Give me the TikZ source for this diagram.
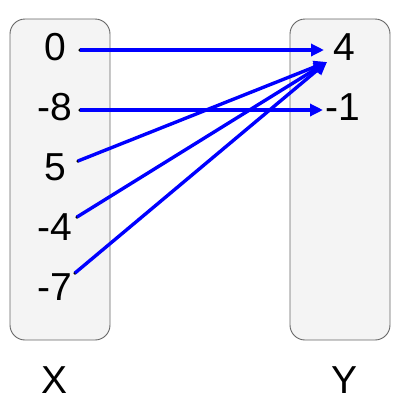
\documentclass[tikz,border=0pt]{standalone}
\usepackage{fontspec}
\setmainfont{Liberation Sans}
\usetikzlibrary{arrows.meta}
\definecolor{boxfill}{RGB}{244,244,244}
\definecolor{boxline}{RGB}{102,102,102}
\definecolor{arrblue}{RGB}{0,0,255}
\begin{document}
\begin{tikzpicture}[x=1pt,y=-1pt,
  setbox/.style={draw=boxline,fill=boxfill,line width=0.9pt,rounded corners=15pt},
  lbl/.style={inner sep=0pt,anchor=base,font=\fontsize{39}{41}\selectfont},
  dotn/.style={circle,fill=black,inner sep=0pt,minimum size=3.5pt},
  conn/.style={draw=arrblue,line width=3.4pt,-{Triangle[length=13pt,width=12pt]}}]
\useasboundingbox (0,0) rectangle (400,400);
\draw[setbox] (10,19) rectangle (110,340);
\draw[setbox] (290,19) rectangle (390,340);
\node[lbl] (x0) at (55,60) {0};
\node[lbl] (x8) at (55,120) {-8};
\node[lbl] (x5) at (55,180) {5};
\node[lbl] (x4) at (55,240) {-4};
\node[lbl] (x7) at (55,300) {-7};
\node[lbl] (y4) at (344.5,60) {4};
\node[lbl] (y1) at (342.5,120) {-1};
\node[lbl] (lx) at (55,393) {X};
\node[lbl] (ly) at (345,393) {Y};
\node[dotn] (d0) at (80,50) {};
\node[dotn] (d8) at (80,110) {};
\node[dotn] (d5) at (78,161) {};
\node[dotn] (d4) at (77,217) {};
\node[dotn] (d7) at (75,273) {};
\coordinate (t4a) at (324,50);
\coordinate (t4b) at (327,62);
\coordinate (t1) at (323,110);
\draw[conn] (d0.center) -- (t4a);
\draw[conn] (d8.center) -- (t1);
\draw[conn] (d5.center) -- (t4b);
\draw[conn] (d4.center) -- (t4b);
\draw[conn] (d7.center) -- (t4b);
\end{tikzpicture}
\end{document}
